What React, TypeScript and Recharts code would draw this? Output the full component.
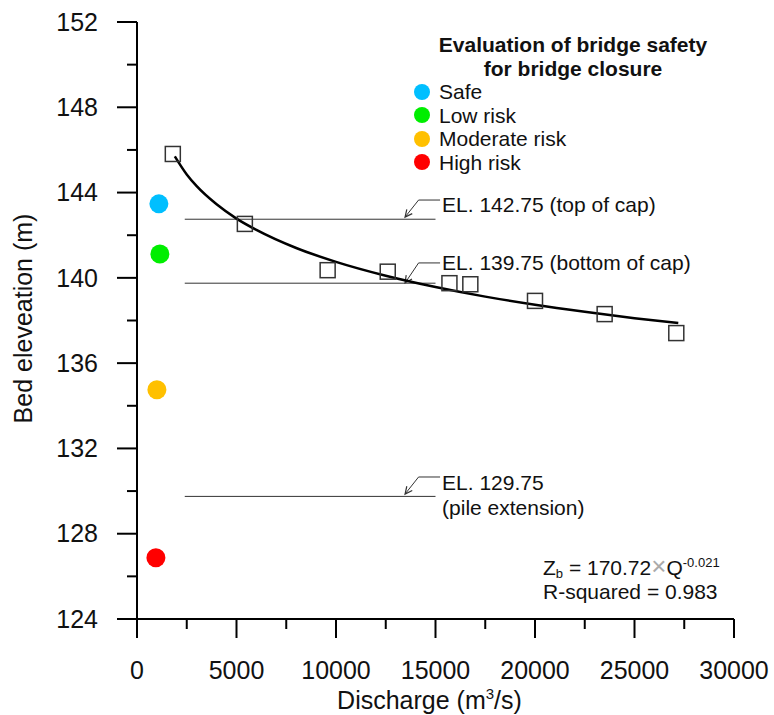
import {
  ComposedChart,
  Line,
  Scatter,
  Cell,
  XAxis,
  YAxis,
  Legend,
  ReferenceLine,
  ReferenceDot,
} from 'recharts';

// axis ticks
const xMajorTicks = [0, 5000, 10000, 15000, 20000, 25000, 30000];
const xMinorTicks = [2500, 7500, 12500, 17500, 22500, 27500];
const yMajorTicks = [124, 128, 132, 136, 140, 144, 148, 152];
const yMinorTicks = [126, 130, 134, 138, 142, 146, 150];

// observed bed elevations (squares)
const obsDischarge = [1800, 5420, 9580, 12600, 15700, 16750, 20000, 23500, 27100];
const obsElevation = [145.81, 142.53, 140.36, 140.29, 139.75, 139.7, 138.92, 138.3, 137.41];

// fitted curve
const fitDischarge = [1900, 2500, 3000, 4000, 5000, 6000, 8000, 10000, 12500, 15000, 17500, 20000, 22500, 25000, 27200];
const fitElevation = [145.7, 144.85, 144.3, 143.45, 142.78, 142.25, 141.4, 140.75, 140.1, 139.57, 139.12, 138.74, 138.41, 138.11, 137.88];

// bridge safety levels (coloured dots)
const riskLabels = ['Safe', 'Low risk', 'Moderate risk', 'High risk'];
const riskColors = ['#00bfff', '#00ee00', '#ffc000', '#ff0000'];
const riskDischarge = [1100, 1150, 1000, 950];
const riskElevation = [143.47, 141.12, 134.75, 126.87];

// elevation marks on the pier
const elevLevels = [142.75, 139.75, 129.75];
const elevLabels = [['EL. 142.75 (top of cap)'], ['EL. 139.75 (bottom of cap)'], ['EL. 129.75', '(pile extension)']];
const elevLineFrom = 2400;
const elevLineTo = 15000;
const leaderTipQ = 13470;
const leaderKneeQ = 14150;
const leaderEndQ = 15230;
const labelQ = 15330;
const leaderKneeZ = [143.65, 140.7, 130.66];
const leaderTipZ = [142.85, 139.76, 129.86];
const labelZ = [143.42, 140.7, 130.38];

const FONT = '"Liberation Sans", Arial, sans-serif';
const INK = '#111';

const fitData = fitDischarge.map((q, i) => ({ q, z: fitElevation[i] }));
const obsData = obsDischarge.map((q, i) => ({ q, z: obsElevation[i] }));
const riskData = riskDischarge.map((q, i) => ({ q, z: riskElevation[i] }));

const XTick = (props: any) => {
  const { x, y, payload } = props;
  const major = xMajorTicks.includes(payload.value);
  return (
    <g>
      <line x1={x} x2={x} y1={y} y2={y + (major ? 19 : 10)} stroke="#000" strokeWidth={2} />
      {major && (
        <text x={x} y={y + 51} dy="0.35em" textAnchor="middle" fontSize={25} fill={INK} fontFamily={FONT}>
          {payload.value}
        </text>
      )}
    </g>
  );
};

const YTick = (props: any) => {
  const { x, y, payload } = props;
  const major = yMajorTicks.includes(payload.value);
  return (
    <g>
      <line x1={x - (major ? 20 : 10)} x2={x} y1={y} y2={y} stroke="#000" strokeWidth={2} />
      {major && (
        <text x={x - 39} y={y} dy="0.35em" textAnchor="end" fontSize={25} fill={INK} fontFamily={FONT}>
          {payload.value}
        </text>
      )}
    </g>
  );
};

const Square = (props: any) => {
  const { cx, cy } = props;
  return <rect x={cx - 7.5} y={cy - 7.5} width={15} height={15} fill="none" stroke="#333" strokeWidth={1.5} />;
};

const RiskDot = (props: any) => {
  const { cx, cy, fill } = props;
  return <circle cx={cx} cy={cy} r={9.5} fill={fill} />;
};

const ArrowLeader = (props: any) => {
  const { x1, y1, x2, y2 } = props;
  const ang = Math.atan2(y1 - y2, x1 - x2);
  const len = 8;
  const a1 = ang + 0.45;
  const a2 = ang - 0.45;
  return (
    <g>
      <line x1={x1} y1={y1} x2={x2} y2={y2} stroke="#333" strokeWidth={1} />
      <polyline
        points={`${x2 + len * Math.cos(a1)},${y2 + len * Math.sin(a1)} ${x2},${y2} ${x2 + len * Math.cos(a2)},${y2 + len * Math.sin(a2)}`}
        fill="none"
        stroke="#333"
        strokeWidth={1.2}
      />
    </g>
  );
};

const makeLabel = (lines: string[]) => (props: any) => {
  const { cx, cy } = props;
  return (
    <text x={cx} y={cy} fontSize={21} fill={INK} fontFamily={FONT}>
      {lines.map((t, i) => (
        <tspan key={i} x={cx} dy={i === 0 ? '0.35em' : 25}>
          {t}
        </tspan>
      ))}
    </text>
  );
};

const LegendBox = () => (
  <div style={{ fontFamily: FONT, color: INK, fontSize: 21, lineHeight: '23.5px' }}>
    <div style={{ fontWeight: 'bold', textAlign: 'center' }}>Evaluation of bridge safety</div>
    <div style={{ fontWeight: 'bold', textAlign: 'center' }}>for bridge closure</div>
    {riskLabels.map((label, i) => (
      <div key={label} style={{ display: 'flex', alignItems: 'center' }}>
        <span
          style={{
            display: 'inline-block',
            width: 16,
            height: 16,
            borderRadius: '50%',
            background: riskColors[i],
            marginLeft: 2,
            marginRight: 9,
          }}
        />
        {label}
      </div>
    ))}
  </div>
);

export default function App() {
  return (
    <div style={{ position: 'absolute', left: 0, top: 0, width: 774, height: 715, background: '#fff' }}>
      <ComposedChart
        width={774}
        height={715}
        margin={{ top: 22, right: 40, bottom: 36, left: 0 }}
        style={{ fontFamily: FONT }}
      >
        <XAxis
          dataKey="q"
          type="number"
          domain={[0, 30000]}
          ticks={[...xMajorTicks, ...xMinorTicks].sort((a, b) => a - b)}
          interval={0}
          tick={<XTick />}
          tickSize={0}
          tickMargin={0}
          tickLine={false}
          height={60}
          axisLine={{ stroke: '#000', strokeWidth: 2 }}
          label={{
            content: (p: any) => {
              const vb = p.viewBox || { x: 137, y: 619, width: 597 };
              const cx = vb.x + vb.width / 2 - 6;
              return (
                <text x={cx} y={vb.y + 81} dy="0.35em" textAnchor="middle" fontSize={25} fill={INK} fontFamily={FONT}>
                  Discharge (m
                  <tspan fontSize={15} dy={-10}>
                    3
                  </tspan>
                  <tspan dy={10}>/s)</tspan>
                </text>
              );
            },
          }}
        />
        <XAxis
          xAxisId="top"
          orientation="top"
          type="number"
          domain={[0, 30000]}
          height={0}
          tick={false}
          tickLine={false}
          axisLine={{ stroke: '#000', strokeWidth: 2 }}
        />
        <YAxis
          dataKey="z"
          type="number"
          domain={[124, 152]}
          ticks={[...yMajorTicks, ...yMinorTicks].sort((a, b) => a - b)}
          interval={0}
          tick={<YTick />}
          tickSize={0}
          tickMargin={0}
          tickLine={false}
          width={137}
          axisLine={{ stroke: '#000', strokeWidth: 2 }}
          label={{
            content: (p: any) => {
              const vb = p.viewBox || { x: 0, y: 22, height: 597 };
              const cy = vb.y + vb.height / 2 - 2;
              return (
                <text
                  x={23}
                  y={cy}
                  dy="0.35em"
                  textAnchor="middle"
                  fontSize={25}
                  fill={INK}
                  fontFamily={FONT}
                  transform={`rotate(-90, 23, ${cy})`}
                >
                  Bed eleveation (m)
                </text>
              );
            },
          }}
        />
        <YAxis
          yAxisId="right"
          orientation="right"
          type="number"
          domain={[124, 152]}
          width={0}
          tick={false}
          tickLine={false}
          axisLine={{ stroke: '#000', strokeWidth: 2 }}
        />

        {elevLevels.map((lv) => (
          <ReferenceLine
            key={`el-${lv}`}
            segment={[
              { x: elevLineFrom, y: lv },
              { x: elevLineTo, y: lv },
            ]}
            stroke="#333"
            strokeWidth={1}
          />
        ))}
        {elevLevels.map((lv, i) => (
          <ReferenceLine
            key={`lead-${lv}`}
            segment={[
              { x: leaderKneeQ, y: leaderKneeZ[i] },
              { x: leaderTipQ, y: leaderTipZ[i] },
            ]}
            shape={<ArrowLeader />}
          />
        ))}
        {elevLevels.map((lv, i) => (
          <ReferenceLine
            key={`knee-${lv}`}
            segment={[
              { x: leaderKneeQ, y: leaderKneeZ[i] },
              { x: leaderEndQ, y: leaderKneeZ[i] },
            ]}
            stroke="#333"
            strokeWidth={1}
          />
        ))}
        {elevLevels.map((lv, i) => (
          <ReferenceDot key={`lab-${lv}`} x={labelQ} y={labelZ[i]} r={0} shape={makeLabel(elevLabels[i])} />
        ))}

        <Line
          data={fitData}
          dataKey="z"
          type="monotone"
          stroke="#000"
          strokeWidth={2.5}
          dot={false}
          activeDot={false}
          isAnimationActive={false}
        />
        <Scatter data={obsData} dataKey="z" shape={<Square />} isAnimationActive={false} />
        <Scatter data={riskData} dataKey="z" isAnimationActive={false} shape={<RiskDot />}>
          {riskData.map((_, i) => (
            <Cell key={i} fill={riskColors[i]} />
          ))}
        </Scatter>

        <Legend
          layout="vertical"
          align="center"
          verticalAlign="middle"
          wrapperStyle={{ left: 412, top: 33, width: 322 }}
          content={() => <LegendBox />}
        />
      </ComposedChart>

      <div
        style={{
          position: 'absolute',
          left: 543,
          top: 556,
          fontFamily: FONT,
          fontSize: 21,
          lineHeight: '24px',
          color: INK,
          whiteSpace: 'nowrap',
        }}
      >
        <div>
          Z<sub style={{ fontSize: 13, verticalAlign: -3, lineHeight: 0 }}>b</sub> = 170.72
          <span style={{ color: '#aaa', fontSize: 26, fontWeight: 300, lineHeight: 0 }}>×</span>Q
          <sup style={{ fontSize: 13, verticalAlign: 8, lineHeight: 0 }}>-0.021</sup>
        </div>
        <div>R-squared = 0.983</div>
      </div>
    </div>
  );
}
